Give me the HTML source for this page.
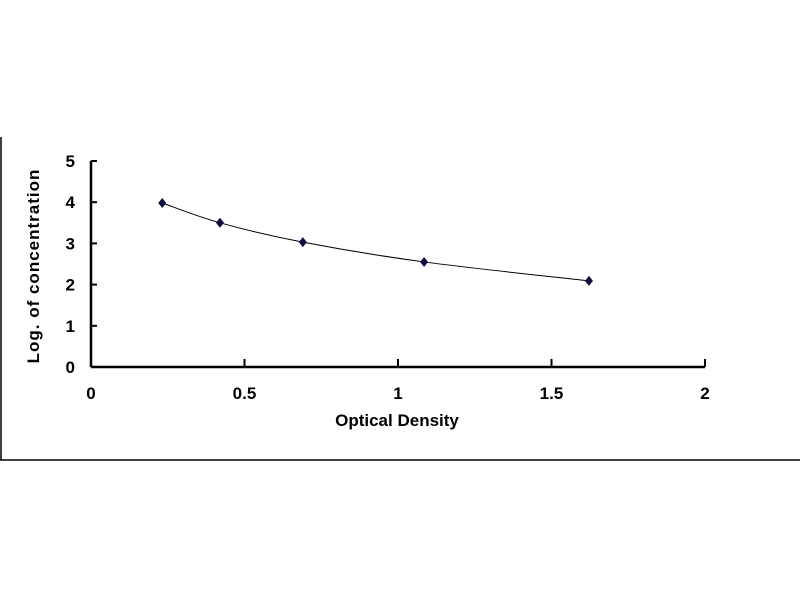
<!DOCTYPE html>
<html><head><meta charset="utf-8"><style>
body{margin:0;background:#fff;}
svg{display:block;font-family:"Liberation Sans",Arial,sans-serif;font-weight:bold;}
</style></head><body>
<svg width="800" height="600">
<line x1="1" y1="137" x2="1" y2="460" stroke="#000" stroke-width="1.5"/>
<line x1="0" y1="460" x2="800" y2="460" stroke="#000" stroke-width="1.5"/>
<g id="axes"></g>
<g id="marks"></g>
<text x="397" y="426" font-size="17" text-anchor="middle">Optical Density</text>
<text transform="translate(39,266) rotate(-90)" font-size="17" text-anchor="middle" letter-spacing="1">Log. of concentration</text>
</svg>
<script>
const xTicks=[0,0.5,1,1.5,2];
const xTickLabels=["0","0.5","1","1.5","2"];
const yTicks=[0,1,2,3,4,5];
const yTickLabels=["0","1","2","3","4","5"];
const odValues=[0.232,0.42,0.69,1.085,1.622];
const logConc=[3.98,3.5,3.03,2.55,2.09];
const X=v=>91+v*307, Y=v=>367-v*41.2;
const NS="http://www.w3.org/2000/svg";
const ax=document.getElementById('axes'), mk=document.getElementById('marks');
function mkEl(t,a,p){const e=document.createElementNS(NS,t);for(const k in a)e.setAttribute(k,a[k]);p.appendChild(e);return e;}
let e=mkEl('line',{x1:X(0),y1:Y(0),x2:X(2),y2:Y(0),stroke:'#000','stroke-width':2.5},ax);


e=mkEl('line',{x1:X(0),y1:Y(0),x2:X(0),y2:Y(5),stroke:'#000','stroke-width':2.5},ax);


xTicks.forEach((t,i)=>{
 let l=mkEl('line',{x1:X(t),y1:Y(0),x2:X(t),y2:Y(0)-8,stroke:'#000','stroke-width':2},ax);
 
 
 let s=mkEl('text',{x:X(t),y:399,'font-size':17,'text-anchor':'middle'},ax);s.textContent=xTickLabels[i];
 
 
});
yTicks.forEach((t,i)=>{
 let l=mkEl('line',{x1:X(0),y1:Y(t),x2:X(0)+6,y2:Y(t),stroke:'#000','stroke-width':2},ax);
 
 
 let s=mkEl('text',{x:75,y:Y(t)+6,'font-size':17,'text-anchor':'end'},ax);s.textContent=yTickLabels[i];
 
 
});
const P=odValues.map((v,i)=>[X(v),Y(logConc[i])]);
let d='M'+P[0][0]+','+P[0][1];
for(let i=0;i<P.length-1;i++){
 const p0=P[i-1]||P[i],p1=P[i],p2=P[i+1],p3=P[i+2]||P[i+1];
 d+=` C${p1[0]+(p2[0]-p0[0])/6},${p1[1]+(p2[1]-p0[1])/6} ${p2[0]-(p3[0]-p1[0])/6},${p2[1]-(p3[1]-p1[1])/6} ${p2[0]},${p2[1]}`;
}
e=mkEl('path',{d:d,fill:'none',stroke:'#000','stroke-width':1},mk);


P.forEach(p=>{
 let m=mkEl('polygon',{points:`${p[0]},${p[1]-5} ${p[0]+4},${p[1]} ${p[0]},${p[1]+5} ${p[0]-4},${p[1]}`,fill:'#0d0d40'},mk);
 
 
});
</script>
</body></html>
